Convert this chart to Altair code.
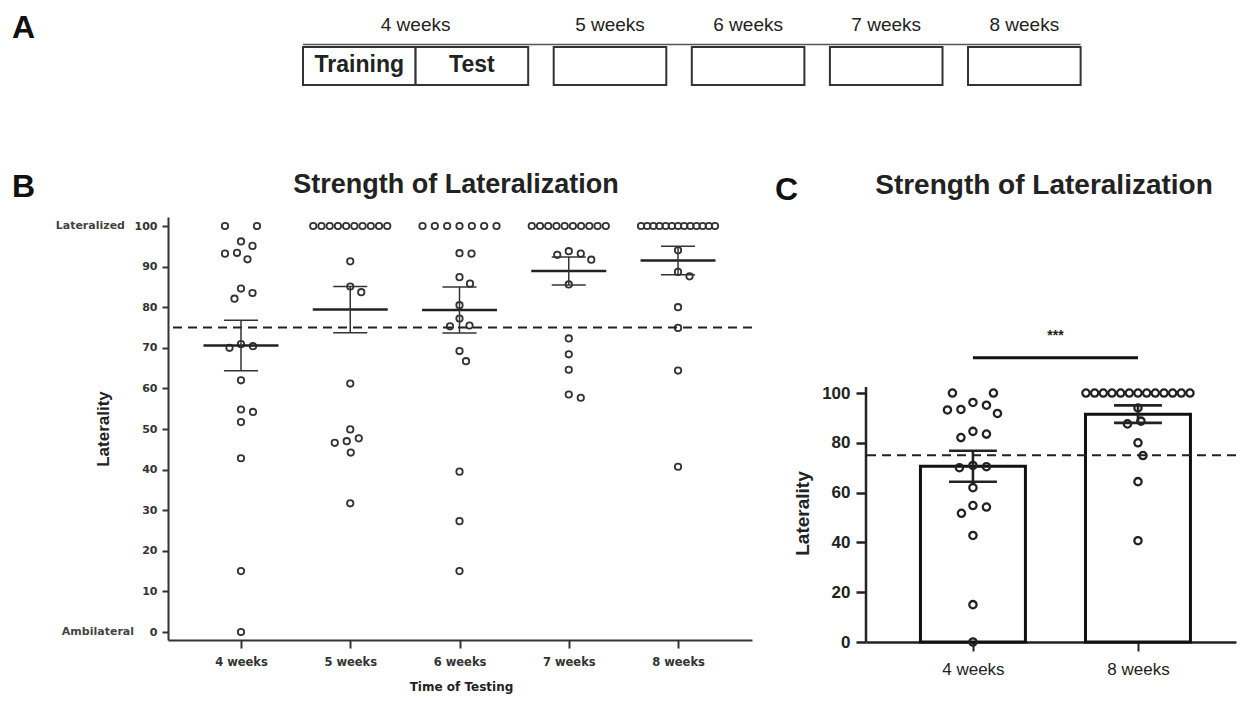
import altair as alt
import pandas as pd

# ---------------- data ----------------
weeks = [4, 5, 6, 7, 8]

lat_4 = [100, 100, 93.4, 95.1, 91.8, 96.2, 93.2, 83.5, 82.1, 84.6,
         70.4, 70.9, 70.0, 62.0, 54.2, 54.8, 51.7, 42.8, 15.0, 0.0]
lat_5 = [100, 100, 100, 100, 100, 100, 100, 100, 100, 100,
         91.3, 85.1, 83.7, 61.2, 49.9, 46.6, 47.7, 47.0, 44.2, 31.7]
lat_6 = [100, 100, 100, 100, 100, 100, 100,
         93.3, 93.2, 87.4, 85.8, 80.5, 77.2, 75.5, 75.3, 69.2, 66.7, 39.5, 27.3, 15.0]
lat_7 = [100, 100, 100, 100, 100, 100, 100, 100, 100, 100,
         93.8, 92.9, 93.2, 91.7, 85.6, 72.3, 68.4, 64.6, 57.7, 58.5]
lat_8 = [100, 100, 100, 100, 100, 100, 100, 100, 100, 100, 100, 100, 100,
         94.0, 88.7, 87.6, 80.0, 74.9, 64.4, 40.7]
threshold = 75

c_groups = ["4 weeks", "8 weeks"]
significance = "***"
panel_title = "Strength of Lateralization"

tl_boxes = ["Training", "Test", "", "", "", ""]
tl_periods = ["4 weeks", "5 weeks", "6 weeks", "7 weeks", "8 weeks"]

# ---------------- layout ----------------
B_W, B_H = 584, 423
B_XDOM = [3.332, 8.677]
B_YDOM = [-1.97, 102.22]
B_PPX = B_W / (B_XDOM[1] - B_XDOM[0])
B_PPY = B_H / (B_YDOM[1] - B_YDOM[0])

C_W, C_H = 370, 425
C_XDOM = [-0.648, 1.594]
C_YDOM = [0, 170.7]
C_PPX = C_W / (C_XDOM[1] - C_XDOM[0])
C_PPY = C_H / (C_YDOM[1] - C_YDOM[0])

A_W, A_H = 920, 80
A_XDOM = [-1.1989, 6.9716]
GAP = 0.2265  # gap between week boxes, in box widths

INK = "#222222"
AX = "#333333"


def swarm(vals, ppu, diam, row_w, row_step):
    """Simple beeswarm: horizontal pixel offsets so that circles do not collide."""
    n = len(vals)
    off = [None] * n
    placed = []
    counts = {}
    for v in vals:
        counts[v] = counts.get(v, 0) + 1
    for v, c in counts.items():
        if c > 1:
            idx = [i for i, u in enumerate(vals) if u == v]
            step = min(row_step, row_w / (c - 1))
            for k, i in enumerate(idx):
                off[i] = (k - (c - 1) / 2) * step
                placed.append((off[i], v * ppu))
    for i in sorted(range(n), key=lambda j: -vals[j]):
        if off[i] is not None:
            continue
        y = vals[i] * ppu
        k = 0
        while True:
            found = None
            cands = (0.0,) if k == 0 else (k * 0.5, -k * 0.5)
            for x in cands:
                if all((x - px) ** 2 + (y - py) ** 2 >= diam ** 2 for px, py in placed):
                    found = x
                    break
            if found is not None:
                break
            k += 1
        off[i] = found
        placed.append((found, y))
    return off


rowsB = []
for w, vals in zip(weeks, [lat_4, lat_5, lat_6, lat_7, lat_8]):
    offs = swarm(vals, B_PPY, 12, 74, 32)
    for v, o in zip(vals, offs):
        rowsB.append({"week": w, "value": v, "xpos": w + o / B_PPX})
dfB = pd.DataFrame(rowsB)

rowsC = []
for g, vals in enumerate([lat_4, lat_8]):
    offs = swarm(vals, C_PPY, 13.5, 104, 41)
    for v, o in zip(vals, offs):
        rowsC.append({"g": g, "value": v, "xpos": g + o / C_PPX})
dfC = pd.DataFrame(rowsC)


def label_mark(text, size, x, y, align="left", weight="bold", font="Liberation Sans", color="#111111"):
    return alt.Chart(pd.DataFrame({"t": [text]})).mark_text(
        font=font, fontSize=size, fontWeight=weight, color=color,
        align=align, baseline="middle"
    ).encode(text="t:N", x=alt.value(x), y=alt.value(y))


# ---------------- panel A (timeline) ----------------
gaps_before = [0, 0, 1, 2, 3, 4]
starts = [i + GAP * gb for i, gb in enumerate(gaps_before)]
dfBoxes = pd.DataFrame({
    "label": tl_boxes,
    "start": starts,
    "end": [s + 1 for s in starts],
    "center": [s + 0.5 for s in starts],
})
period_centers = [1.0] + [s + 0.5 for s in starts[2:]]
dfPeriods = pd.DataFrame({"period": tl_periods, "center": period_centers})
xA = alt.Scale(domain=A_XDOM, nice=False, zero=False)

a_line = alt.Chart(pd.DataFrame({"a": [starts[0]], "b": [starts[-1] + 1]})).mark_rule(
    color="#555555", strokeWidth=1.5
).encode(x=alt.X("a:Q", scale=xA, axis=None), x2="b:Q", y=alt.value(32.5))
a_boxes = alt.Chart(dfBoxes).mark_rect(fill="white", stroke=AX, strokeWidth=2).encode(
    x=alt.X("start:Q", scale=xA, axis=None), x2="end:Q", y=alt.value(35), y2=alt.value(73)
)
a_boxtext = alt.Chart(dfBoxes).mark_text(
    font="Liberation Sans", fontSize=23, fontWeight="bold", color=INK, baseline="middle"
).encode(x=alt.X("center:Q", scale=xA, axis=None), y=alt.value(53), text="label:N")
a_periods = alt.Chart(dfPeriods).mark_text(
    font="Liberation Sans", fontSize=19, color=INK, baseline="middle"
).encode(x=alt.X("center:Q", scale=xA, axis=None), y=alt.value(13), text="period:N")
a_letter = label_mark("A", 32, -156, 16)

panelA = alt.layer(a_line, a_boxes, a_boxtext, a_periods, a_letter).properties(
    width=A_W, height=A_H
)

# ---------------- panel B ----------------
xB = alt.Scale(domain=B_XDOM, nice=False, zero=False)
yB = alt.Scale(domain=B_YDOM, nice=False, zero=False)

axis_xB = alt.Axis(
    values=weeks, labelExpr="datum.value + ' weeks'", grid=False,
    domainColor=AX, domainWidth=2, tickColor=AX, tickWidth=2, tickSize=8,
    labelPadding=8, labelFont="DejaVu Sans", labelFontWeight="bold", labelFontSize=11.5,
    labelColor=AX, titleFont="DejaVu Sans", titleFontWeight="bold", titleFontSize=12,
    titleColor=INK, titleX=293, titleY=46, titleBaseline="middle"
)
axis_yB = alt.Axis(
    values=[0, 10, 20, 30, 40, 50, 60, 70, 80, 90, 100], grid=False,
    domainColor=AX, domainWidth=2, tickColor=AX, tickWidth=2, tickSize=6,
    labelPadding=5, labelFont="DejaVu Sans", labelFontWeight="bold", labelFontSize=11,
    labelColor=AX, titleFont="Liberation Sans", titleFontWeight="bold", titleFontSize=17,
    titleColor=INK, titleX=-65, titleBaseline="middle"
)


def XB(field):
    return alt.X(field, scale=xB, axis=axis_xB, title="Time of Testing")


def YB(field):
    return alt.Y(field, scale=yB, axis=axis_yB, title="Laterality")


dashB = alt.Chart(pd.DataFrame({"t": [threshold]})).mark_rule(
    strokeDash=[9, 6], strokeWidth=2, color=INK
).encode(y=YB("t:Q"))

pointsB = alt.Chart(dfB).mark_point(
    shape="circle", filled=False, size=41, strokeWidth=1.8, color=AX, opacity=1
).encode(x=XB("xpos:Q"), y=YB("value:Q"))

statsB = alt.Chart(dfB).transform_aggregate(
    m="mean(value)", se="stderr(value)", groupby=["week"]
).transform_calculate(
    lo="datum.m - datum.se", hi="datum.m + datum.se",
    ml="datum.week - 0.343", mr="datum.week + 0.343",
    cl="datum.week - 0.156", cr="datum.week + 0.156",
)
meanB = statsB.mark_rule(strokeWidth=2.4, color=INK).encode(
    x=XB("ml:Q"), x2="mr:Q", y=YB("m:Q")
)
capLoB = statsB.mark_rule(strokeWidth=1.5, color=AX).encode(
    x=XB("cl:Q"), x2="cr:Q", y=YB("lo:Q")
)
capHiB = statsB.mark_rule(strokeWidth=1.5, color=AX).encode(
    x=XB("cl:Q"), x2="cr:Q", y=YB("hi:Q")
)
vertB = statsB.mark_rule(strokeWidth=1.5, color=AX).encode(
    x=XB("week:Q"), y=YB("lo:Q"), y2="hi:Q"
)

latText = alt.Chart(pd.DataFrame({"t": ["Lateralized"], "v": [100]})).mark_text(
    font="DejaVu Sans", fontWeight="bold", fontSize=11, color="#444444",
    align="right", baseline="middle"
).encode(text="t:N", x=alt.value(-43), y=YB("v:Q"))
ambText = alt.Chart(pd.DataFrame({"t": ["Ambilateral"], "v": [0]})).mark_text(
    font="DejaVu Sans", fontWeight="bold", fontSize=11, color="#444444",
    align="right", baseline="middle"
).encode(text="t:N", x=alt.value(-34), y=YB("v:Q"))
b_letter = label_mark("B", 32, -156, -30)
b_title = label_mark(panel_title, 27, 288, -32.5, align="center", color=INK)

panelB = alt.layer(
    pointsB, dashB, meanB, capLoB, capHiB, vertB, latText, ambText, b_letter, b_title
).properties(width=B_W, height=B_H)

# ---------------- panel C ----------------
xC = alt.Scale(domain=C_XDOM, nice=False, zero=False)
yC = alt.Scale(domain=C_YDOM, nice=False, zero=False)

axis_xC = alt.Axis(
    values=[0, 1], labelExpr="['4 weeks', '8 weeks'][datum.value]", grid=False,
    domainColor=INK, domainWidth=2.5, tickColor=INK, tickWidth=2, tickSize=9,
    labelPadding=10, labelFont="Liberation Sans", labelFontSize=17, labelColor=INK,
)
axis_yC = alt.Axis(
    values=[0, 20, 40, 60, 80, 100], grid=False, domain=False,
    tickColor=INK, tickWidth=2.5, tickSize=10, labelPadding=6,
    labelFont="Liberation Sans", labelFontWeight="bold", labelFontSize=17, labelColor=INK,
    titleFont="Liberation Sans", titleFontWeight="bold", titleFontSize=19, titleColor=INK,
    titleX=-64, titleY=296, titleBaseline="middle"
)


def XC(field):
    return alt.X(field, scale=xC, axis=axis_xC, title=None)


def YC(field):
    return alt.Y(field, scale=yC, axis=axis_yC, title="Laterality")


statsC = alt.Chart(dfC).transform_aggregate(
    m="mean(value)", se="stderr(value)", groupby=["g"]
).transform_calculate(
    lo="datum.m - datum.se", hi="datum.m + datum.se",
    bl="datum.g - 0.318", br="datum.g + 0.318",
    cl="datum.g - 0.145", cr="datum.g + 0.145", base="0",
)
barsC = statsC.mark_rect(fill="white", stroke="#111111", strokeWidth=3).encode(
    x=XC("bl:Q"), x2="br:Q", y=YC("base:Q"), y2="m:Q",
)
yLineC = alt.Chart(pd.DataFrame({"a": [0], "b": [102.4]})).mark_rule(
    strokeWidth=2.5, color=INK
).encode(x=alt.value(0), y=YC("a:Q"), y2="b:Q")
dashC = alt.Chart(pd.DataFrame({"t": [threshold]})).mark_rule(
    strokeDash=[9, 6], strokeWidth=2.2, color=INK
).encode(y=YC("t:Q"))
pointsC = alt.Chart(dfC).mark_point(
    shape="circle", filled=False, size=53, strokeWidth=2.3, color=INK, opacity=1
).encode(x=XC("xpos:Q"), y=YC("value:Q"))
capLoC = statsC.mark_rule(strokeWidth=2.6, color=INK).encode(
    x=XC("cl:Q"), x2="cr:Q", y=YC("lo:Q")
)
capHiC = statsC.mark_rule(strokeWidth=2.6, color=INK).encode(
    x=XC("cl:Q"), x2="cr:Q", y=YC("hi:Q")
)
vertC = statsC.mark_rule(strokeWidth=2.6, color=INK).encode(
    x=XC("g:Q"), y=YC("lo:Q"), y2="hi:Q"
)
sigLine = alt.Chart(pd.DataFrame({"a": [0], "b": [1], "h": [114.2]})).mark_rule(
    strokeWidth=3, color="#111111"
).encode(x=XC("a:Q"), x2="b:Q", y=YC("h:Q"))
sigText = alt.Chart(pd.DataFrame({"t": [significance], "x": [0.5], "h": [122.9]})).mark_text(
    font="Liberation Sans", fontSize=14, fontWeight="bold", color=INK, baseline="middle"
).encode(text="t:N", x=XC("x:Q"), y=YC("h:Q"))
c_letter = label_mark("C", 32, -91, -27)
c_title = label_mark(panel_title, 28, 178, -31.5, align="center", color=INK)

panelC = alt.layer(
    barsC, yLineC, dashC, pointsC, capLoC, capHiC, vertC, sigLine, sigText, c_letter, c_title
).properties(width=C_W, height=C_H)

row2 = alt.hconcat(panelB, panelC, spacing=114, bounds="flush")
chart = alt.vconcat(panelA, row2, spacing=125, bounds="flush").properties(
    padding={"left": 4, "top": 4, "right": 0, "bottom": 5}
).configure_view(stroke=None)

chart.save("out.html", embed_options={"renderer": "svg", "actions": False})
